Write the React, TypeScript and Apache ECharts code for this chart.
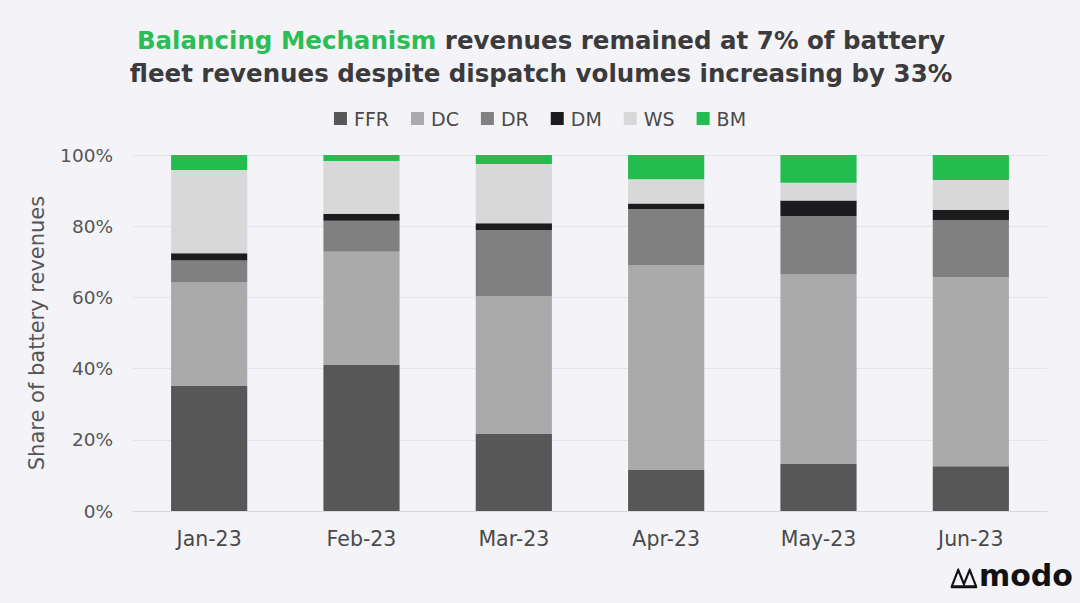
import React, { useEffect, useRef } from "react";
import * as echarts from "echarts";

const categories = ["Jan-23", "Feb-23", "Mar-23", "Apr-23", "May-23", "Jun-23"];
const ffr = [35.1, 41.0, 21.6, 11.5, 13.2, 12.6];
const dc = [29.2, 31.8, 38.8, 57.6, 53.4, 53.1];
const dr = [6.1, 8.7, 18.5, 15.7, 16.3, 16.0];
const dm = [2.0, 2.0, 1.9, 1.6, 4.3, 2.9];
const ws = [23.4, 14.8, 16.7, 6.8, 5.0, 8.4];
const bm = [4.2, 1.7, 2.5, 6.8, 7.8, 7.0];
const yTicks = [0, 20, 40, 60, 80, 100];

const seriesDefs = [
  { name: "FFR", data: ffr, color: "#575757" },
  { name: "DC", data: dc, color: "#aaaaaa" },
  { name: "DR", data: dr, color: "#808080" },
  { name: "DM", data: dm, color: "#1c1c1e" },
  { name: "WS", data: ws, color: "#d8d8d9" },
  { name: "BM", data: bm, color: "#22bd4e" },
];

const FONT = "'DejaVu Sans', sans-serif";

const logoPath = "M2 16 L10 3 L17 14 L24 3 L32 16 Z";
echarts.graphic.registerShape("logo", echarts.graphic.extendPath(logoPath, {}) as any);

export default function App() {
  const ref = useRef<HTMLDivElement>(null);
  useEffect(() => {
    if (!ref.current) return;
    const chart = echarts.init(ref.current, null, { renderer: "svg" });
    chart.setOption({
      animation: false,
      backgroundColor: "#f4f4f8",
      textStyle: { fontFamily: FONT },
      title: {
        text: "{g|Balancing Mechanism} revenues remained at 7% of battery\nfleet revenues despite dispatch volumes increasing by 33%",
        left: 536,
        top: 19,
        textAlign: "center",
        textStyle: {
          fontFamily: FONT,
          fontSize: 24.5,
          fontWeight: "bold",
          color: "#3b3b3d",
          lineHeight: 33,
          rich: {
            g: { fontFamily: FONT, fontSize: 24.5, fontWeight: "bold", color: "#2cbd57", lineHeight: 33 },
          },
        },
      },
      legend: {
        top: 104,
        left: "center",
        itemWidth: 13,
        itemHeight: 13,
        itemGap: 22,
        icon: "rect",
        textStyle: { fontFamily: FONT, fontSize: 19, color: "#4a4a4a", padding: [0, 0, 0, 2] },
        data: seriesDefs.map((s) => s.name),
      },
      grid: { left: 133, right: 33, top: 155, bottom: 92, containLabel: false },
      xAxis: {
        type: "category",
        data: categories,
        axisLine: { show: true, lineStyle: { color: "#d8d8de" } },
        axisTick: { show: false },
        axisLabel: { fontFamily: FONT, fontSize: 20.5, color: "#4a4a4a", margin: 17 },
      },
      yAxis: {
        type: "value",
        min: 0,
        max: 100,
        interval: 20,
        name: "Share of battery revenues",
        nameLocation: "middle",
        nameGap: 86,
        nameTextStyle: { fontFamily: FONT, fontSize: 21, color: "#555555" },
        axisLine: { show: false },
        axisTick: { show: false },
        axisLabel: {
          fontFamily: FONT,
          fontSize: 18.5,
          color: "#555555",
          margin: 20,
          formatter: (v: number) => (yTicks.includes(v) ? v + "%" : ""),
        },
        splitLine: { show: true, lineStyle: { color: "#e4e4ea", width: 1 } },
      },
      series: seriesDefs.map((s) => ({
        name: s.name,
        type: "bar",
        stack: "total",
        barWidth: "50%",
        data: s.data,
        itemStyle: { color: s.color },
        emphasis: { disabled: true },
      })),
      graphic: [
        {
          type: "logo",
          x: 950,
          y: 566,
          scaleX: 0.82,
          scaleY: 1.3,
          style: { fill: "none", stroke: "#111111", lineWidth: 2.4, lineJoin: "round" },
        },
        {
          type: "text",
          x: 979,
          y: 560,
          style: { text: "modo", fontFamily: FONT, fontSize: 30, fontWeight: "bold", fill: "#111111" },
        },
      ],
    });
    return () => chart.dispose();
  }, []);
  return <div ref={ref} style={{ position: "fixed", left: 0, top: 0, width: 1080, height: 603 }} />;
}
